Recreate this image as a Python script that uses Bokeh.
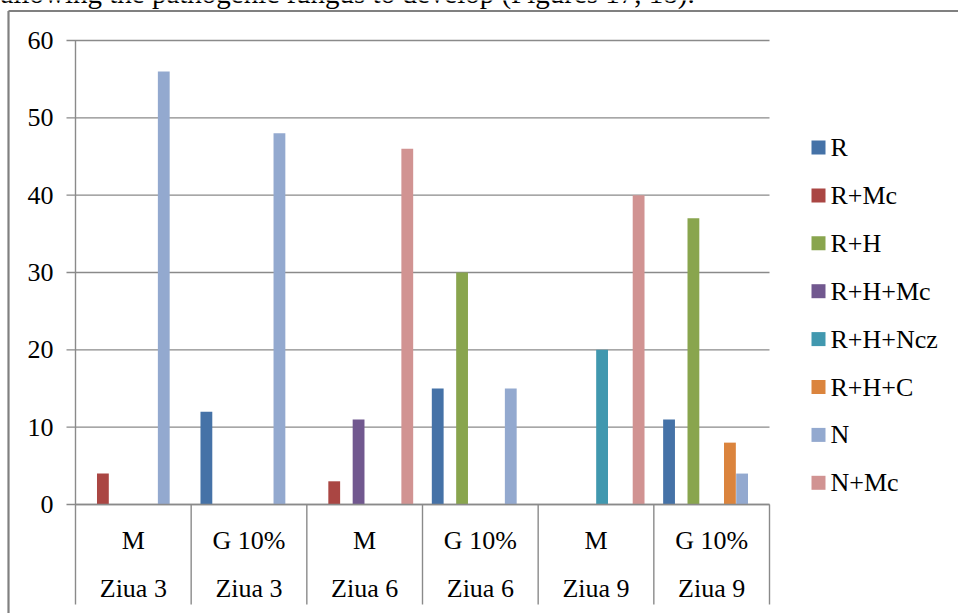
from bokeh.plotting import figure
from bokeh.models import Range1d, ColumnDataSource
from bokeh.embed import file_html
from bokeh.resources import INLINE
from bokeh.core.properties import value

# ---- data -------------------------------------------------------------
treatments = ["M", "G 10%", "M", "G 10%", "M", "G 10%"]
days = ["Ziua 3", "Ziua 3", "Ziua 6", "Ziua 6", "Ziua 9", "Ziua 9"]

series = ["R", "R+Mc", "R+H", "R+H+Mc", "R+H+Ncz", "R+H+C", "N", "N+Mc"]
colors = ["#4572A7", "#AA4643", "#89A54E", "#71588F",
          "#4198AF", "#DB843D", "#93A9CF", "#D19392"]

r_vals = [0, 12, 0, 15, 0, 11]
r_mc_vals = [4, 0, 3, 0, 0, 0]
r_h_vals = [0, 0, 0, 30, 0, 37]
r_h_mc_vals = [0, 0, 11, 0, 0, 0]
r_h_ncz_vals = [0, 0, 0, 0, 20, 0]
r_h_c_vals = [0, 0, 0, 0, 0, 8]
n_vals = [56, 48, 0, 15, 0, 4]
n_mc_vals = [0, 0, 46, 0, 40, 0]

series_values = [r_vals, r_mc_vals, r_h_vals, r_h_mc_vals,
                 r_h_ncz_vals, r_h_c_vals, n_vals, n_mc_vals]

y_ticks = [0, 10, 20, 30, 40, 50, 60]

caption = "allowing the pathogenic fungus to develop (Figures 17, 18)."

# ---- page geometry (pixels) --------------------------------------------
W, H = 958, 613
PLOT_LEFT, PLOT_RIGHT = 75, 769
PLOT_ZERO, PLOT_TOP = 504, 40
LABEL_BOTTOM = 604
N_CAT = len(treatments)
Y_MAX = y_ticks[-1]

ppx = (PLOT_RIGHT - PLOT_LEFT) / N_CAT
ppu = (PLOT_ZERO - PLOT_TOP) / Y_MAX


def dx(px):
    return (px - PLOT_LEFT) / ppx


def dy(py):
    return (PLOT_ZERO - py) / ppu


FONT = value("'Liberation Serif', 'Times New Roman', serif")
GRID = "#8a8a8a"

p = figure(width=W, height=H,
           x_range=Range1d(dx(0), dx(W)), y_range=Range1d(dy(H), dy(0)),
           output_backend="svg", toolbar_location=None,
           x_axis_type=None, y_axis_type=None,
           min_border=0, min_border_left=0, min_border_right=0,
           min_border_top=0, min_border_bottom=0)
p.outline_line_color = None
p.background_fill_color = "white"
p.border_fill_color = "white"

# outer frame of the chart object
p.segment(x0=[dx(8), dx(8)], y0=[dy(10.5), dy(10.5)],
          x1=[dx(8), dx(W)], y1=[dy(H), dy(10.5)],
          line_color="#808080", line_width=2.2)

# horizontal gridlines and their tick marks
p.segment(x0=[dx(66)] * len(y_ticks), y0=y_ticks,
          x1=[N_CAT] * len(y_ticks), y1=y_ticks,
          line_color=GRID, line_width=1.4)

# bars: Excel-style clusters, gap width 150 %
n_ser = len(series)
bw = 1.0 / (n_ser + 1.5)
for j, (name, vals, col) in enumerate(zip(series, series_values, colors)):
    xs = [i + 0.75 * bw + (j + 0.5) * bw for i in range(N_CAT)]
    src = ColumnDataSource(dict(x=[x for x, v in zip(xs, vals) if v > 0],
                                top=[v for v in vals if v > 0]))
    p.vbar(x="x", top="top", bottom=0, width=bw * 0.97, source=src,
           fill_color=col, line_color=None)

# value axis line, category baseline and category separators
p.segment(x0=[0], y0=[Y_MAX], x1=[0], y1=[dy(LABEL_BOTTOM)],
          line_color=GRID, line_width=1.4)
p.segment(x0=[0], y0=[0], x1=[N_CAT], y1=[0],
          line_color=GRID, line_width=1.4)
p.segment(x0=list(range(1, N_CAT + 1)), y0=[0] * N_CAT,
          x1=list(range(1, N_CAT + 1)), y1=[dy(LABEL_BOTTOM)] * N_CAT,
          line_color=GRID, line_width=1.4)

# y tick labels
p.text(x=[dx(53)] * len(y_ticks), y=y_ticks, text=[str(t) for t in y_ticks],
       text_align="right", text_baseline="middle",
       text_font=FONT, text_font_size="26px", text_color="#000000")

# two-level category labels
centers = [i + 0.5 for i in range(N_CAT)]
p.text(x=centers, y=[dy(540)] * N_CAT, text=treatments,
       text_align="center", text_baseline="middle",
       text_font=FONT, text_font_size="26px", text_color="#000000")
p.text(x=centers, y=[dy(588)] * N_CAT, text=days,
       text_align="center", text_baseline="middle",
       text_font=FONT, text_font_size="26px", text_color="#000000")

# legend
leg_y = [dy(147 + k * 47.9) for k in range(n_ser)]
p.rect(x=[dx(818)] * n_ser, y=leg_y, width=14, height=14,
       width_units="screen", height_units="screen",
       fill_color=colors, line_color=None)
p.text(x=[dx(830)] * n_ser, y=leg_y, text=series,
       text_align="left", text_baseline="middle",
       text_font=FONT, text_font_size="26px", text_color="#000000")

# running text of the page above the chart
p.text(x=[dx(0)], y=[dy(-8)], text=[caption],
       text_align="left", text_baseline="alphabetic",
       text_font=FONT, text_font_size="29px", text_color="#000000")

open("out.html", "w").write(file_html(p, INLINE))
